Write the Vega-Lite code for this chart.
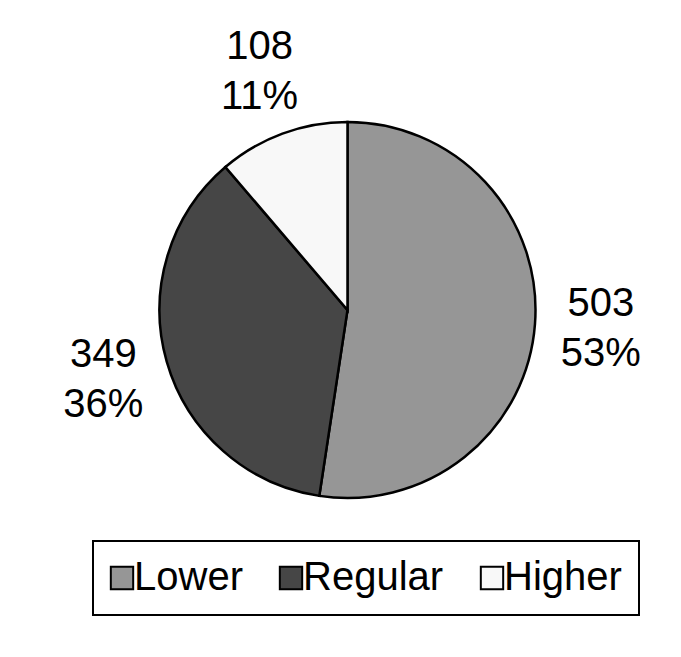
{
  "$schema": "https://vega.github.io/schema/vega-lite/v6.json",
  "width": 667,
  "height": 620,
  "autosize": {"type": "none"},
  "padding": {"left": 14, "top": 0, "right": 0, "bottom": 37},
  "background": "white",
  "config": {"view": {"stroke": null}, "font": "Liberation Sans"},
  "data": {
    "values": [
      {"category": "Lower", "count": 503, "label": "503\n53%", "rank": 1},
      {"category": "Regular", "count": 349, "label": "349\n36%", "rank": 2},
      {"category": "Higher", "count": 108, "label": "108\n11%", "rank": 3}
    ]
  },
  "encoding": {
    "theta": {"field": "count", "type": "quantitative", "stack": true},
    "order": {"field": "rank", "type": "quantitative"},
    "color": {
      "field": "category",
      "type": "nominal",
      "scale": {
        "domain": ["Lower", "Regular", "Higher"],
        "range": ["#969696", "#464646", "#f8f8f8"]
      },
      "legend": {
        "orient": "none",
        "legendX": 79,
        "legendY": 541,
        "direction": "horizontal",
        "title": null,
        "strokeColor": "black",
        "padding": 17,
        "symbolType": "square",
        "symbolSize": 500,
        "symbolStrokeColor": "black",
        "symbolStrokeWidth": 2,
        "symbolOpacity": 1,
        "symbolOffset": -8,
        "labelFont": "Liberation Sans",
        "labelFontSize": 40,
        "labelColor": "black",
        "labelOffset": -8,
        "columnPadding": 32,
        "labelLimit": 300,
        "encode": {"legend": {"update": {"strokeWidth": {"value": 2}}}}
      }
    }
  },
  "layer": [
    {"mark": {"type": "arc", "outerRadius": 188, "stroke": "black", "strokeWidth": 2.5}},
    {
      "mark": {
        "type": "text",
        "radius": 254,
        "dy": -25,
        "fontSize": 40,
        "lineBreak": "\n",
        "lineHeight": 50,
        "baseline": "middle",
        "align": "center",
        "font": "Liberation Sans"
      },
      "encoding": {
        "text": {"field": "label"},
        "detail": {"field": "category"},
        "color": {"value": "black"}
      }
    }
  ]
}
